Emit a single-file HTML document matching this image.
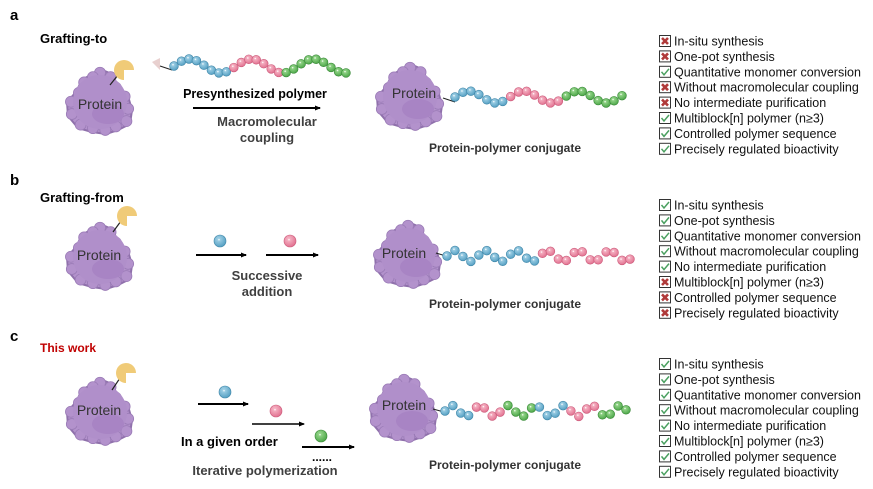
<!DOCTYPE html>
<html><head><meta charset="utf-8"><style>
body{margin:0;background:#fff}
svg{display:block}
text{font-family:"Liberation Sans",Arial,sans-serif}
</style></head><body>
<svg id="s" width="873" height="489" viewBox="0 0 873 489" xmlns="http://www.w3.org/2000/svg">
<defs>
<radialGradient id="gb" cx="0.4" cy="0.35" r="0.7"><stop offset="0" stop-color="#a9d6ea"/><stop offset="1" stop-color="#4f9cc0"/></radialGradient>
<radialGradient id="gp" cx="0.4" cy="0.35" r="0.7"><stop offset="0" stop-color="#f8bccb"/><stop offset="1" stop-color="#e06c8c"/></radialGradient>
<radialGradient id="gg" cx="0.4" cy="0.35" r="0.7"><stop offset="0" stop-color="#9fdc93"/><stop offset="1" stop-color="#47a344"/></radialGradient>
<marker id="ar" markerWidth="6" markerHeight="6" refX="5" refY="3" orient="auto" markerUnits="userSpaceOnUse"><path d="M0,0.5 L6,3 L0,5.5z" fill="#000"/></marker>
</defs>
<g font-size="15" font-weight="bold">
<text x="10" y="20">a</text>
<text x="10" y="185">b</text>
<text x="10" y="341">c</text>
</g>
<text x="40" y="43" font-size="13" font-weight="bold">Grafting-to</text>
<text x="40" y="202" font-size="13" font-weight="bold">Grafting-from</text>
<text x="40" y="352" font-size="12" font-weight="bold" fill="#c00000">This work</text>
<g id="dyn"></g>
<text x="255" y="98" font-size="12.5" font-weight="bold" text-anchor="middle">Presynthesized polymer</text>
<line x1="193" y1="108" x2="320" y2="108" stroke="#000" stroke-width="2" marker-end="url(#ar)"/>
<text x="267" y="126" font-size="13" font-weight="bold" fill="#404040" text-anchor="middle">Macromolecular</text>
<text x="267" y="142" font-size="13" font-weight="bold" fill="#404040" text-anchor="middle">coupling</text>
<text x="505" y="152" font-size="12" font-weight="bold" fill="#333" text-anchor="middle">Protein-polymer conjugate</text>
<line x1="196" y1="255" x2="246" y2="255" stroke="#000" stroke-width="2" marker-end="url(#ar)"/>
<line x1="266" y1="255" x2="318" y2="255" stroke="#000" stroke-width="2" marker-end="url(#ar)"/>
<text x="267" y="280" font-size="13" font-weight="bold" fill="#404040" text-anchor="middle">Successive</text>
<text x="267" y="296" font-size="13" font-weight="bold" fill="#404040" text-anchor="middle">addition</text>
<text x="505" y="308" font-size="12" font-weight="bold" fill="#333" text-anchor="middle">Protein-polymer conjugate</text>
<line x1="198" y1="404" x2="248" y2="404" stroke="#000" stroke-width="2" marker-end="url(#ar)"/>
<line x1="252" y1="424" x2="304" y2="424" stroke="#000" stroke-width="1.5" marker-end="url(#ar)"/>
<line x1="302" y1="447" x2="354" y2="447" stroke="#000" stroke-width="2" marker-end="url(#ar)"/>
<text x="181" y="446" font-size="13" font-weight="bold">In a given order</text>
<text x="312" y="461" font-size="12" font-weight="bold">......</text>
<text x="265" y="475" font-size="13" font-weight="bold" fill="#404040" text-anchor="middle">Iterative polymerization</text>
<text x="505" y="469" font-size="12" font-weight="bold" fill="#333" text-anchor="middle">Protein-polymer conjugate</text>
</svg>
<script>
var g=document.getElementById('dyn'),h="";
function blob(cx,cy,sc,lx,ly){
 var pts=[[0,-31],[12,-26],[18,-14],[28,-4],[32,10],[30,24],[18,30],[6,34],[-8,32],[-22,28],[-32,16],[-33,2],[-24,-8],[-18,-20],[-8,-26]];
 var d="";pts.forEach(function(p,i){d+=(i?"L":"M")+(cx+p[0]*sc)+","+(cy+p[1]*sc);});d+="Z";
 h+='<path d="'+d+'" fill="#b392cc" stroke="#8f70ab" stroke-width="2" stroke-linejoin="round"/>';
 pts.forEach(function(p){h+='<circle cx="'+(cx+p[0]*sc*0.88)+'" cy="'+(cy+p[1]*sc*0.88)+'" r="'+(5.5*sc)+'" fill="#b392cc" stroke="#9a7bb6" stroke-width="0.8"/>';});
 h+='<ellipse cx="'+cx+'" cy="'+(cy+2)+'" rx="'+(27*sc)+'" ry="'+(27*sc)+'" fill="#b08fca"/>';
 h+='<ellipse cx="'+(cx+8)+'" cy="'+(cy+14)+'" rx="'+(16*sc)+'" ry="'+(10*sc)+'" fill="#a884c4"/>';
 h+='<text x="'+lx+'" y="'+ly+'" font-size="14" fill="#333" text-anchor="middle">Protein</text>';
}
function pac(cx,cy,ax,ay){
 h+='<line x1="'+ax+'" y1="'+ay+'" x2="'+(cx-6)+'" y2="'+(cy+5)+'" stroke="#222" stroke-width="1.2"/>';
 var r=10;h+='<path d="M'+cx+','+cy+' L'+(cx+r)+','+cy+' A'+r+','+r+' 0 1 0 '+cx+','+(cy+r)+'Z" fill="#f0cb78"/>';
}
function bead(x,y,c,r){h+='<circle cx="'+x+'" cy="'+y+'" r="'+(r||4.4)+'" fill="url(#g'+c+')" stroke="'+({b:"#3f86a8",p:"#cc5a7a",g:"#3a8a38"})[c]+'" stroke-width="0.6"/><circle cx="'+(x-1)+'" cy="'+(y-1.3)+'" r="0.8" fill="#fff" opacity="0.8"/>';}
function chain(x0,x1,yc,amp,per,seq,ph){
 var n=seq.length,dx=(x1-x0)/(n-1);
 for(var i=0;i<n;i++){var x=x0+i*dx;bead(x,yc+amp*Math.sin((x-x0)/per*2*Math.PI+(ph||0)),seq[i]);}
}
function rep(a){return a.split("");}
blob(100,100,1,100,109);pac(124,70,110,85);
h+='<path d="M152,62 L160,58 L160,70 Z" fill="#e8d0cf"/><line x1="160" y1="66" x2="172" y2="70" stroke="#222" stroke-width="1"/>';
chain(174,346,66,7,62,rep("bbbbbbbbpppppppggggggggg"),Math.PI);
blob(410,95,1,414,98);h+='<line x1="443" y1="98" x2="455" y2="102" stroke="#222"/>';
chain(455,622,97,6,55,rep("bbbbbbbpppppppgggggggg"),Math.PI);
blob(100,255,1,99,260);pac(127,216,113,232);
bead(220,241,"b",6);bead(290,241,"p",6);
blob(408,253,1,404,258);h+='<line x1="436" y1="253" x2="446" y2="256" stroke="#222"/>';
chain(447,630,256,5.5,31,rep("bbbbbbbbbbbbpppppppppppp"),Math.PI);
blob(100,410,1,99,415);pac(126,373,112,390);
bead(225,392,"b",6);bead(276,411,"p",6);bead(321,436,"g",6);
blob(404,407,1,404,410);h+='<line x1="433" y1="409" x2="444" y2="412" stroke="#222"/>';
chain(445,626,411,5.5,28,rep("bbbbppppggggbbbbppppgggg"),Math.PI);
var items=["In-situ synthesis","One-pot synthesis","Quantitative monomer conversion","Without macromolecular coupling","No intermediate purification","Multiblock[n] polymer (n\u22653)","Controlled polymer sequence","Precisely regulated bioactivity"];
function list(y0,marks){
 for(var i=0;i<8;i++){var y=y0+i*15.4;
  h+='<rect x="659.5" y="'+(y-5.5)+'" width="11" height="11" fill="#fff" stroke="#333" stroke-width="1"/>';
  if(marks[i]=="x"){h+='<path d="M662,'+(y-3)+' L668,'+(y+3)+' M668,'+(y-3)+' L662,'+(y+3)+'" stroke="#b03a3a" stroke-width="2.6"/>';}
  else{h+='<path d="M661.5,'+(y)+' L664,'+(y+3)+' L669,'+(y-3)+'" fill="none" stroke="#4aa060" stroke-width="1.5"/>';}
  h+='<text x="674" y="'+(y+4.5)+'" font-size="12.5" fill="#111">'+items[i]+'</text>';
 }}
list(41,"xxvxxvvv");list(205,"vvvvvxxx");list(364,"vvvvvvvv");
g.innerHTML=h;
</script>
</body></html>
